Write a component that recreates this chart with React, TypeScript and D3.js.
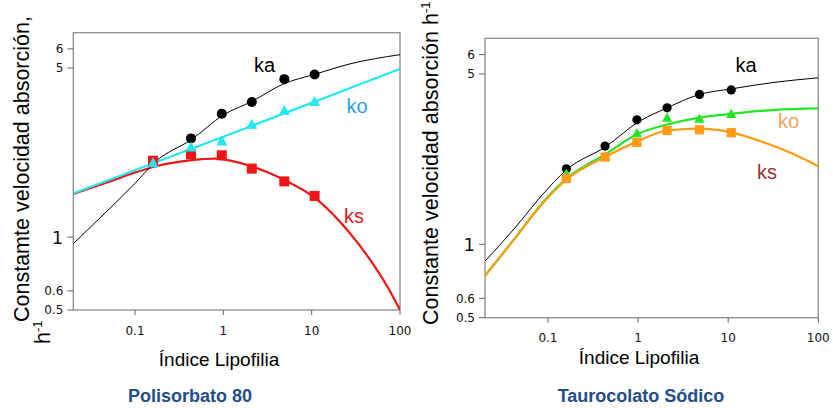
import React from "react";
import * as d3 from "d3";

// ---------- data ----------
const xTicks = [0.1, 1, 10, 100];
const yTicks = [0.5, 0.6, 1, 5, 6];

// Polisorbato 80 – measured points
const p80KaX = [0.43, 0.96, 2.1, 4.9, 10.8];
const p80Ka = [2.56, 3.24, 3.62, 4.5, 4.7];
const p80KoX = [0.16, 0.43, 0.96, 2.1, 4.9, 10.8];
const p80Ko = [2.03, 2.36, 2.5, 2.93, 3.34, 3.64];
const p80KsX = [0.16, 0.43, 0.96, 2.1, 4.9, 10.8];
const p80Ks = [2.07, 2.2, 2.18, 1.92, 1.7, 1.48];

// Polisorbato 80 – fitted curves
const p80KaCurveX = [0.02, 0.041, 0.1, 0.17, 0.44, 1, 2.1, 4.8, 11, 27, 100];
const p80KaCurve = [0.94, 1.21, 1.67, 2.05, 2.54, 3.2, 3.64, 4.3, 4.72, 5.2, 5.68];
const p80KoCurveX = [0.02, 1, 100];
const p80KoCurve = [1.515, 2.6, 4.96];
const p80KsCurveX = [0.02, 0.05, 0.1, 0.17, 0.44, 0.8, 2.1, 4.8, 11, 27, 50, 71, 100];
const p80KsCurve = [1.51, 1.69, 1.85, 1.96, 2.08, 2.11, 1.96, 1.73, 1.45, 1.04, 0.77, 0.63, 0.5];

// Taurocolato Sódico – measured points
const tcX = [0.16, 0.43, 0.97, 2.1, 4.8, 10.8];
const tcKa = [2.04, 2.53, 3.24, 3.63, 4.12, 4.3];
const tcKo = [1.95, 2.3, 2.86, 3.31, 3.28, 3.43];
const tcKs = [1.86, 2.28, 2.62, 2.93, 2.95, 2.87];

// Taurocolato Sódico – fitted curves
const tcKaCurveX = [0.02, 0.044, 0.087, 0.16, 0.44, 1, 2.1, 4.8, 10.8, 33, 100];
const tcKaCurve = [0.853, 1.18, 1.6, 2.02, 2.52, 3.17, 3.63, 4.12, 4.34, 4.62, 4.82];
const tcKoCurveX = [0.02, 0.044, 0.087, 0.16, 0.44, 1, 2.1, 4.8, 10.8, 33, 100];
const tcKoCurve = [0.743, 1.07, 1.48, 1.86, 2.35, 2.84, 3.1, 3.31, 3.43, 3.56, 3.61];
const tcKsCurveX = [0.02, 0.044, 0.087, 0.16, 0.44, 1, 2.1, 4.8, 10.8, 27, 52, 100];
const tcKsCurve = [0.743, 1.07, 1.47, 1.84, 2.29, 2.65, 2.93, 2.98, 2.88, 2.59, 2.35, 2.09];

type Series = {
  cx: number[]; cy: number[]; color: string; width: number;
  px: number[]; py: number[]; marker: "circle" | "tri" | "square";
  mcolor: string;
};

type PanelProps = {
  id: string;
  x0: number; x1: number; y0: number; y1: number;
  lines: Series[];
  marks: Series[];
  r: number;
  labels: { text: string; x: number; y: number; color: string }[];
  xLabelY: number;
};

const tickFont = "'DejaVu Sans', Verdana, sans-serif";
const textFont = "'Liberation Sans', Arial, sans-serif";

function Panel(p: PanelProps) {
  const x = d3.scaleLog().domain([0.02, 100]).range([p.x0, p.x1]);
  const y = d3.scaleLog().domain([0.5, 7]).range([p.y1, p.y0]);
  const line = d3
    .line<[number, number]>()
    .x((d) => x(d[0]))
    .y((d) => y(d[1]))
    .curve(d3.curveMonotoneX);
  const clipId = "clip-" + p.id;
  return (
    <g>
      <defs>
        <clipPath id={clipId}>
          <rect x={p.x0} y={p.y0} width={p.x1 - p.x0} height={p.y1 - p.y0} />
        </clipPath>
      </defs>
      <rect x={p.x0} y={p.y0} width={p.x1 - p.x0} height={p.y1 - p.y0}
        fill="none" stroke="#8c8c8c" strokeWidth={1.3} />
      {yTicks.map((t) => (
        <g key={"y" + t}>
          <line x1={p.x0 - 6} x2={p.x0} y1={y(t)} y2={y(t)} stroke="#666" strokeWidth={1} />
          <text x={p.x0 - 10} y={y(t)} dy="0.36em" textAnchor="end"
            fontFamily={tickFont} fontSize={t === 1 ? 18 : 12} fill="#111">
            {t}
          </text>
        </g>
      ))}
      {xTicks.map((t) => (
        <g key={"x" + t}>
          <line x1={x(t)} x2={x(t)} y1={p.y1} y2={p.y1 + 5} stroke="#666" strokeWidth={1} />
          <text x={x(t)} y={p.xLabelY} textAnchor="middle"
            fontFamily={tickFont} fontSize={12} fill="#111">
            {t}
          </text>
        </g>
      ))}
      <g clipPath={`url(#${clipId})`}>
        {p.lines.map((s, i) => (
          <path key={"l" + i}
            d={line(s.cx.map((v, j) => [v, s.cy[j]] as [number, number])) || ""}
            fill="none" stroke={s.color} strokeWidth={s.width} />
        ))}
      </g>
      {p.marks.map((s, i) => (
        <g key={"m" + i} fill={s.mcolor}>
          {s.px.map((v, j) => {
            const cx = x(v);
            const cy = y(s.py[j]);
            const r = p.r;
            if (s.marker === "circle")
              return <circle key={j} cx={cx} cy={cy} r={r} />;
            if (s.marker === "square")
              return <rect key={j} x={cx - r} y={cy - r} width={2 * r} height={2 * r} />;
            return (
              <path key={j}
                d={`M${cx},${cy - r - 0.5}L${cx + r + 0.5},${cy + r - 0.5}L${cx - r - 0.5},${cy + r - 0.5}Z`} />
            );
          })}
        </g>
      ))}
      {p.labels.map((l, i) => (
        <text key={"t" + i} x={l.x} y={l.y} fill={l.color}
          fontFamily={textFont} fontSize={20}>
          {l.text}
        </text>
      ))}
    </g>
  );
}

export default function App() {
  const lKa: Series = { cx: p80KaCurveX, cy: p80KaCurve, color: "#000", width: 1, px: p80KaX, py: p80Ka, marker: "circle", mcolor: "#000" };
  const lKo: Series = { cx: p80KoCurveX, cy: p80KoCurve, color: "#22e8f0", width: 2.2, px: p80KoX, py: p80Ko, marker: "tri", mcolor: "#22e8f0" };
  const lKs: Series = { cx: p80KsCurveX, cy: p80KsCurve, color: "#f01414", width: 2.2, px: p80KsX, py: p80Ks, marker: "square", mcolor: "#f01414" };
  const rKa: Series = { cx: tcKaCurveX, cy: tcKaCurve, color: "#000", width: 1, px: tcX, py: tcKa, marker: "circle", mcolor: "#000" };
  const rKo: Series = { cx: tcKoCurveX, cy: tcKoCurve, color: "#22e622", width: 2.2, px: tcX, py: tcKo, marker: "tri", mcolor: "#22e622" };
  const rKs: Series = { cx: tcKsCurveX, cy: tcKsCurve, color: "#ff9a14", width: 2.2, px: tcX, py: tcKs, marker: "square", mcolor: "#ff9a14" };
  return (
    <svg width={833} height={408} style={{ position: "absolute", left: 0, top: 0, background: "#fff" }}>
      <rect width={833} height={408} fill="#fff" />
      <Panel id="a" x0={73.3} x1={400} y0={32.7} y1={310} r={5}
        lines={[lKs, lKo, lKa]} marks={[lKa, lKs, lKo]}
        xLabelY={335}
        labels={[
          { text: "ka", x: 254, y: 72, color: "#000" },
          { text: "ko", x: 346.5, y: 112.5, color: "#1fa3e0" },
          { text: "ks", x: 344, y: 223, color: "#e8141a" },
        ]} />
      <Panel id="b" x0={485} x1={818.3} y0={38.3} y1={317.7} r={4.6}
        lines={[rKa, rKo, rKs]} marks={[rKa, rKo, rKs]}
        xLabelY={342}
        labels={[
          { text: "ka", x: 735.5, y: 71.5, color: "#000" },
          { text: "ko", x: 778, y: 128, color: "#f5a35c" },
          { text: "ks", x: 757, y: 179, color: "#993333" },
        ]} />
      {/* left y title */}
      <text transform="translate(29,322) rotate(-90)" fontFamily={textFont} fontSize={21.5} fill="#000">
        Constamte velocidad absorción,
      </text>
      <text transform="translate(50,344) rotate(-90)" fontFamily={textFont} fontSize={21.5} fill="#000">
        h<tspan fontSize={13} dy={-8}>-1</tspan>
      </text>
      {/* right y title */}
      <text transform="translate(438,325) rotate(-90)" fontFamily={textFont} fontSize={21.5} fill="#000">
        Constante velocidad absorción h<tspan fontSize={13} dy={-8}>-1</tspan>
      </text>
      <text x={219} y={366} textAnchor="middle" fontFamily={textFont} fontSize={19} fill="#000">
        Índice Lipofilia
      </text>
      <text x={639} y={364} textAnchor="middle" fontFamily={textFont} fontSize={19} fill="#000">
        Índice Lipofilia
      </text>
      <text x={190} y={402} textAnchor="middle" fontFamily={textFont} fontSize={18} fontWeight="bold" fill="#244d8a">
        Polisorbato 80
      </text>
      <text x={641} y={402} textAnchor="middle" fontFamily={textFont} fontSize={18} fontWeight="bold" fill="#244d8a">
        Taurocolato Sódico
      </text>
    </svg>
  );
}
